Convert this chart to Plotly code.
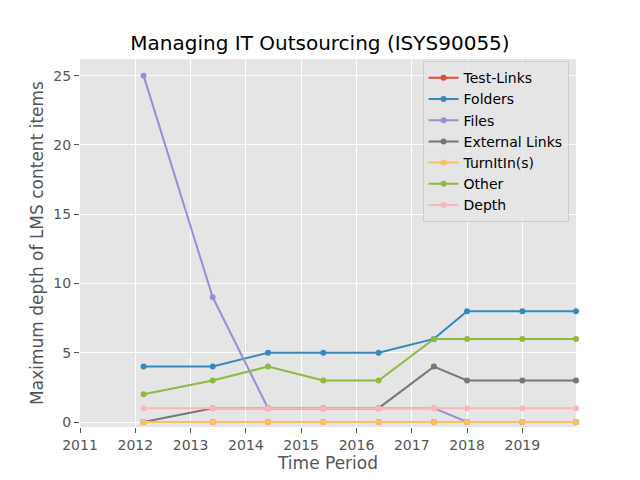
import plotly.graph_objects as go

x_years = [2012.15, 2013.4, 2014.4, 2015.4, 2016.4, 2017.4, 2018.0, 2019.0, 2019.97]
series_names = ["Test-Links", "Folders", "Files", "External Links", "TurnItIn(s)", "Other", "Depth"]
test_links = [0, 0, 0, 0, 0, 0, 0, 0, 0]
folders = [4, 4, 5, 5, 5, 6, 8, 8, 8]
files = [25, 9, 1, 1, 1, 1, 0, 0, 0]
external_links = [0, 1, 1, 1, 1, 4, 3, 3, 3]
turnitins = [0, 0, 0, 0, 0, 0, 0, 0, 0]
other = [2, 3, 4, 3, 3, 6, 6, 6, 6]
depth = [1, 1, 1, 1, 1, 1, 1, 1, 1]
series_values = [test_links, folders, files, external_links, turnitins, other, depth]
colors = ["#E24A33", "#348ABD", "#988ED5", "#777777", "#FBC15E", "#8EBA42", "#FFB5B8"]
x_ticks = [2011, 2012, 2013, 2014, 2015, 2016, 2017, 2018, 2019]

fig = go.Figure()
for name, vals, c in zip(series_names, series_values, colors):
    fig.add_trace(go.Scatter(x=x_years, y=vals, name=name, mode="lines+markers",
                             line=dict(color=c, width=2), marker=dict(color=c, size=6),
                             cliponaxis=False))

font = "DejaVu Sans"
fig.update_layout(
    width=640, height=480,
    paper_bgcolor="white", plot_bgcolor="#E5E5E5",
    margin=dict(l=80, r=64, t=59, b=53),
    font=dict(family=font, color="#555555", size=14),
    title=dict(text="Managing IT Outsourcing (ISYS90055)", x=0.5, xanchor="center",
               y=1 - 43 / 480, yanchor="middle", font=dict(size=20, color="black")),
    showlegend=True,
    legend=dict(x=0.985, y=0.994, xanchor="right", yanchor="top",
                bgcolor="rgba(229,229,229,0.8)", bordercolor="#CCCCCC", borderwidth=1,
                font=dict(size=14, color="black")),
)
fig.update_xaxes(range=[2011, 2019.97], tickvals=x_ticks, ticktext=[str(t) for t in x_ticks],
                 showgrid=True, gridcolor="white", gridwidth=1, zeroline=False, automargin=False,
                 ticks="outside", ticklen=5, tickcolor="#555555",
                 title=dict(text="Time Period", font=dict(size=17, color="#555555"), standoff=4),
                 tickfont=dict(size=14, color="#555555"))
fig.update_yaxes(range=[-0.36, 26.2], tickvals=[0, 5, 10, 15, 20, 25],
                 showgrid=True, gridcolor="white", gridwidth=1, zeroline=False, automargin=False,
                 ticks="outside", ticklen=5, tickcolor="#555555",
                 title=dict(text="Maximum depth of LMS content items", font=dict(size=17, color="#555555"), standoff=5),
                 tickfont=dict(size=14, color="#555555"))

fig.write_html("out.html", config={"displayModeBar": False},
               post_script="document.body.style.margin='0';")
